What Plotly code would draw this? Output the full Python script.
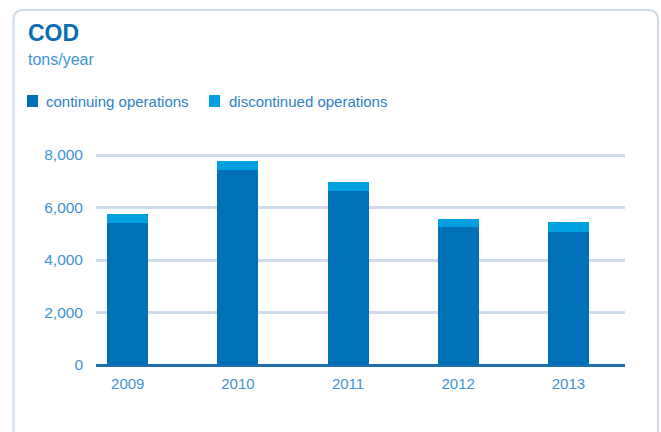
import plotly.graph_objects as go

# COD emissions, tons per year
years = ["2009", "2010", "2011", "2012", "2013"]
continuing = [5420, 7440, 6630, 5260, 5070]
discontinued = [330, 330, 340, 300, 380]
y_ticks = [0, 2000, 4000, 6000, 8000]
y_tick_labels = ["0", "2,000", "4,000", "6,000", "8,000"]

W, H = 661, 432
ML, MR, MT, MB = 96, 36, 145, 67
PW, PH = W - ML - MR, H - MT - MB

DARK = "#0070b7"
LIGHT = "#00a0e0"
TITLE_C = "#0a6db3"
TEXT_C = "#2b82c6"
TICK_C = "#3d93d4"
GRID_C = "#d0dcee"
FONT = "Liberation Sans, Arial, Helvetica, sans-serif"


def px(x):
    return (x - ML) / PW


def py(y):
    return (H - MB - y) / PH


fig = go.Figure()
fig.add_trace(go.Bar(x=years, y=continuing, name="continuing operations",
                     marker=dict(color=DARK, line=dict(width=0))))
fig.add_trace(go.Bar(x=years, y=discontinued, name="discontinued operations",
                     marker=dict(color=LIGHT, line=dict(width=0))))

shapes = []
# rounded panel border
r = 10
x0, x1, top, bot = 13.5, 658, 10, 440
path = (f"M {px(x0)},{py(bot)} L {px(x0)},{py(top + r)} "
        f"Q {px(x0)},{py(top)} {px(x0 + r)},{py(top)} "
        f"L {px(x1 - r)},{py(top)} "
        f"Q {px(x1)},{py(top)} {px(x1)},{py(top + r)} "
        f"L {px(x1)},{py(bot)}")
shapes.append(dict(type="path", path=path, xref="paper", yref="paper",
                   line=dict(color=GRID_C, width=2), layer="below"))

# legend swatches
for sx, col in [(27, DARK), (209, LIGHT)]:
    shapes.append(dict(type="rect", xref="paper", yref="paper",
                       x0=px(sx), x1=px(sx + 11), y0=py(107), y1=py(95),
                       fillcolor=col, line=dict(width=0)))

annotations = [
    dict(text="<b>COD</b>", x=px(26), y=py(33), xref="paper", yref="paper",
         xanchor="left", yanchor="middle", showarrow=False,
         font=dict(size=23, color=TITLE_C, family=FONT)),
    dict(text="tons/year", x=px(26), y=py(59), xref="paper", yref="paper",
         xanchor="left", yanchor="middle", showarrow=False,
         font=dict(size=16, color=TICK_C, family=FONT)),
    dict(text="continuing operations", x=px(44), y=py(101), xref="paper", yref="paper",
         xanchor="left", yanchor="middle", showarrow=False,
         font=dict(size=15, color=TEXT_C, family=FONT)),
    dict(text="discontinued operations", x=px(227), y=py(101), xref="paper", yref="paper",
         xanchor="left", yanchor="middle", showarrow=False,
         font=dict(size=15, color=TEXT_C, family=FONT)),
]

fig.update_layout(
    width=W, height=H,
    margin=dict(l=ML, r=MR, t=MT, b=MB, pad=0),
    barmode="stack", bargap=0.627,
    showlegend=False,
    paper_bgcolor="white", plot_bgcolor="white",
    font=dict(family=FONT, color=TICK_C, size=15),
    shapes=shapes, annotations=annotations,
    xaxis=dict(type="category", range=[-0.288, 4.514], showgrid=False,
               showline=False, zeroline=False, ticks="",
               tickfont=dict(size=15, color=TICK_C), ticklabelstandoff=8),
    yaxis=dict(range=[0, 8381], tickvals=y_ticks, ticktext=y_tick_labels,
               showgrid=True, gridcolor=GRID_C, gridwidth=2.5,
               zeroline=True, zerolinecolor="#1f6fae", zerolinewidth=2.5,
               showline=False, ticks="", ticklabelstandoff=12,
               tickfont=dict(size=15.5, color=TICK_C)),
)

fig.write_html("out.html")
